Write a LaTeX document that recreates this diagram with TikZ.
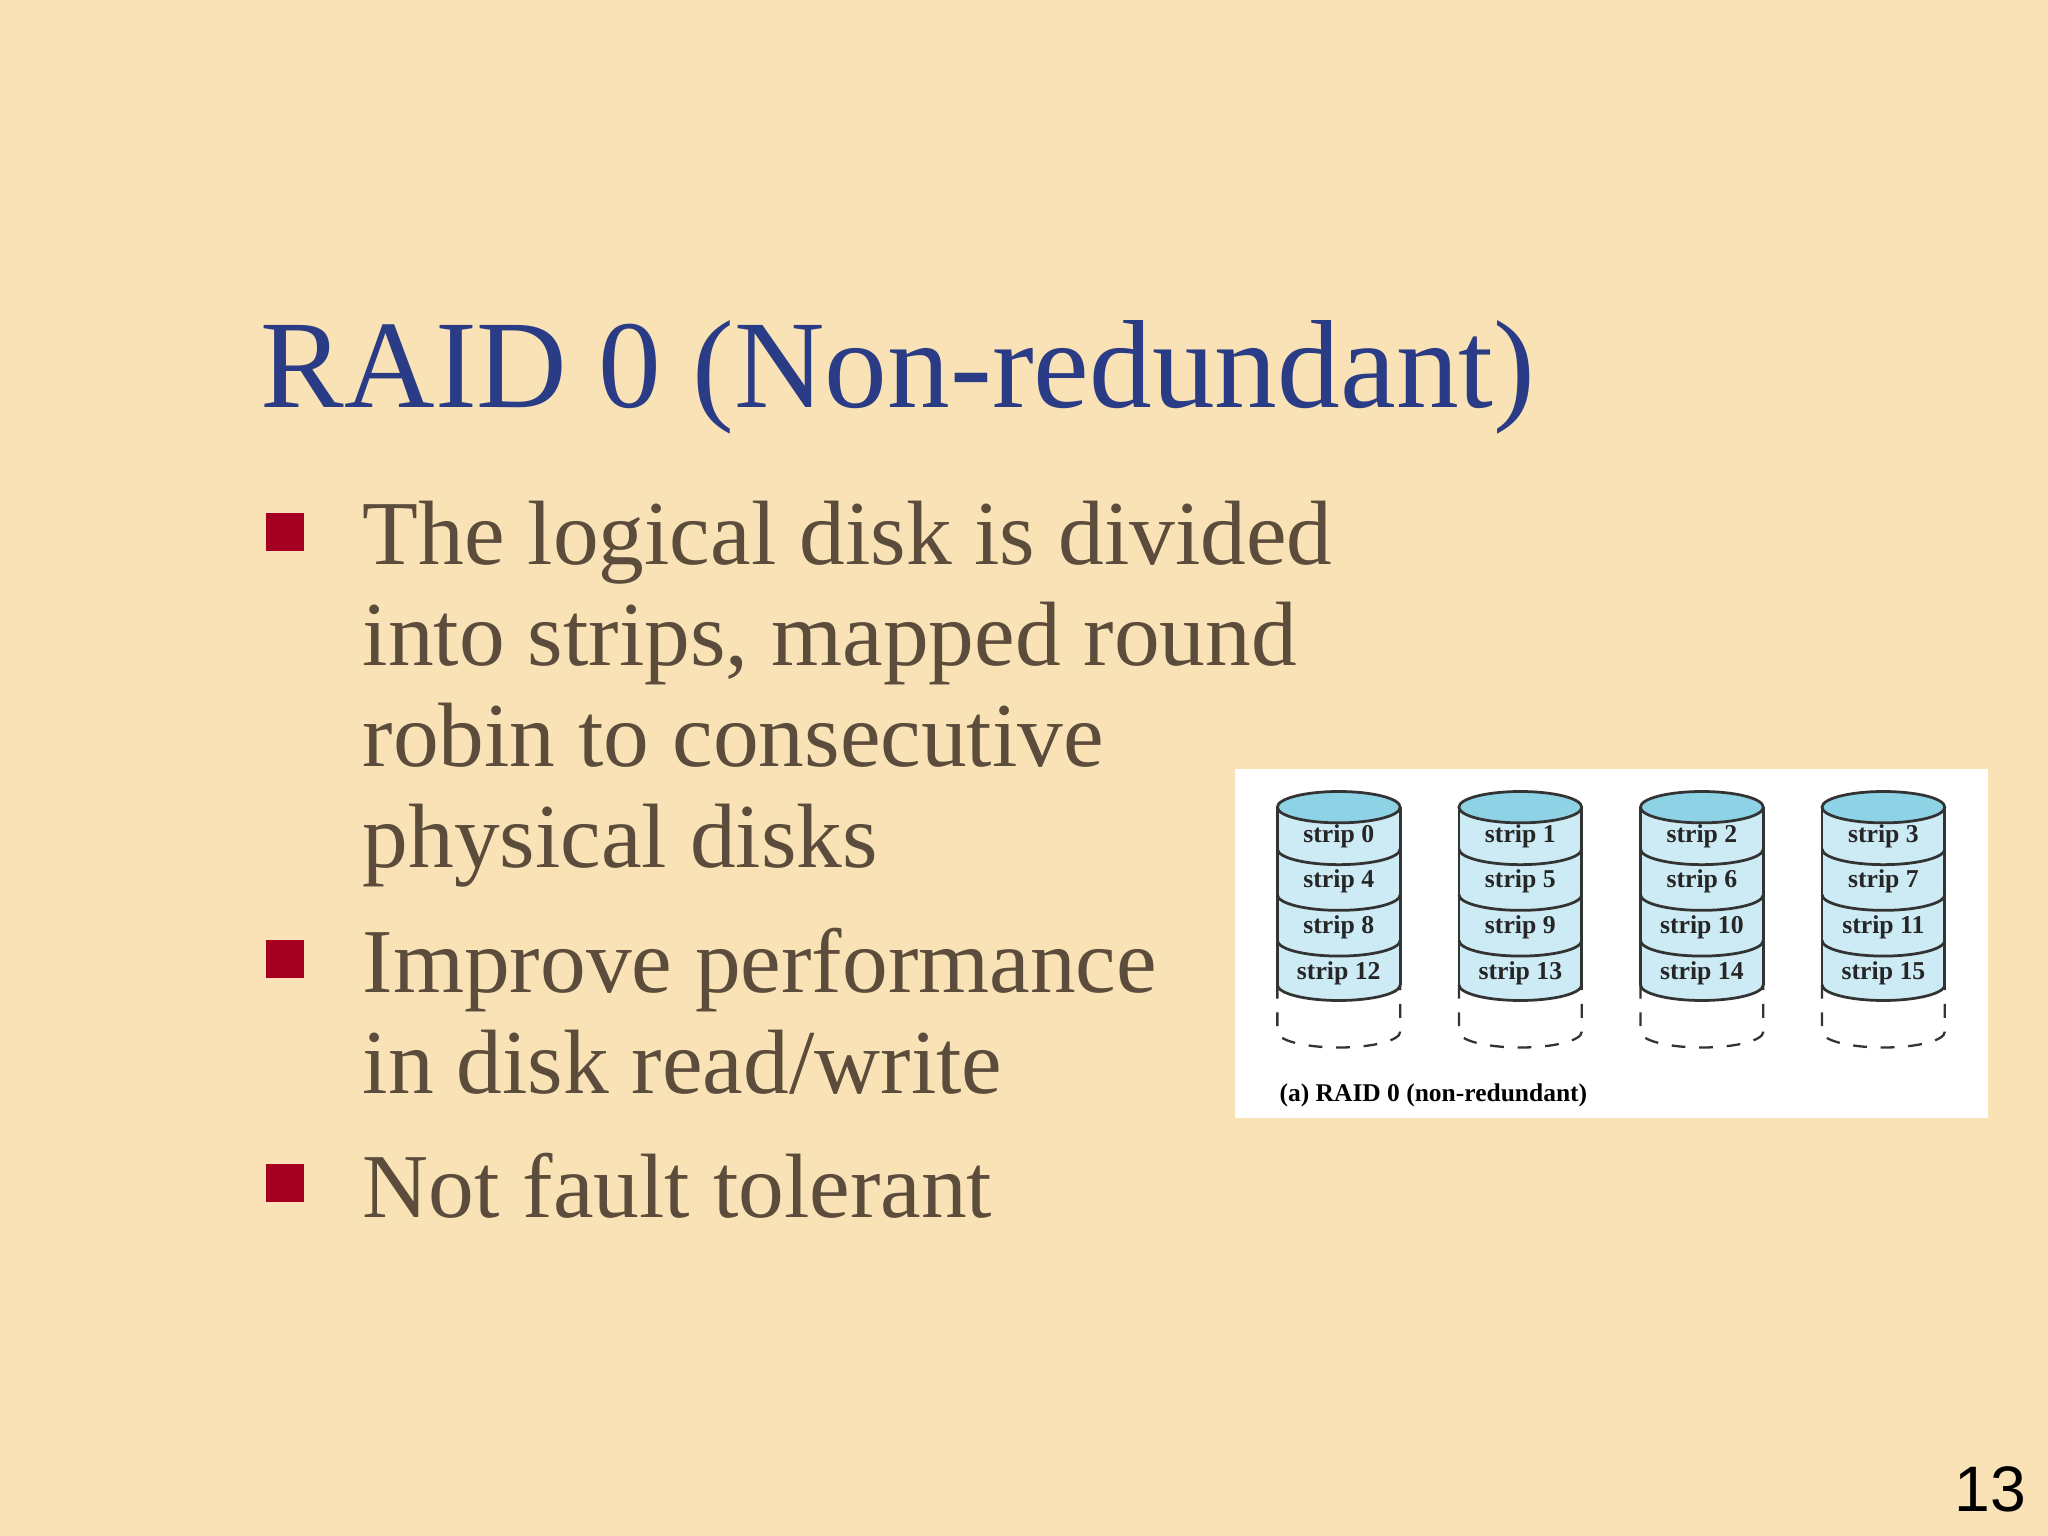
\documentclass[tikz,border=0pt]{standalone}
\usepackage{fontspec}
\setmainfont{Liberation Serif}
\newfontfamily\numfont{Liberation Sans}
\definecolor{bg}{HTML}{F9E3B6}
\definecolor{ttl}{HTML}{2B3C86}
\definecolor{bodyc}{HTML}{5C4C3C}
\definecolor{bul}{HTML}{A50021}
\definecolor{cyltop}{HTML}{8ED2E6}
\definecolor{cylside}{HTML}{CDEBF4}
\begin{document}
\begin{tikzpicture}[x=0.01cm,y=-0.01cm,
  bodytxt/.style={anchor=north west,text=bodyc,font=\fontsize{19.9}{22}\selectfont,align=left,inner sep=0pt},
  bulletbox/.style={fill=bul,minimum size=0.29cm,inner sep=0pt},
  striplbl/.style={font=\fontsize{5.6}{6}\selectfont\bfseries,inner sep=0pt,text=black!85}]
\useasboundingbox (0,0) rectangle (1568,1176);
\fill[bg] (0,0) rectangle (1568,1176);
\node[anchor=base west,text=ttl,font=\fontsize{27.3}{28}\selectfont,inner sep=0pt] (title) at (199,312) {RAID 0 (Non-redundant)};
\node[bulletbox] (b1) at (218,407) {};
\node[bulletbox] (b2) at (218,734) {};
\node[bulletbox] (b3) at (218,906) {};
\node[bodytxt] (t1) at (277,383) {The logical disk is divided\\into strips, mapped round\\robin to consecutive\\physical disks};
\node[bodytxt] (t2) at (277,710) {Improve performance\\in disk read/write};
\node[bodytxt] (t3) at (277,882) {Not fault tolerant};
\node[fill=white,minimum width=5.76cm,minimum height=2.67cm,inner sep=0pt,anchor=north west] (fig) at (945,588) {};
\foreach \k/\cx in {0/1025,1/1164,2/1303,3/1442}{
  \fill[cylside] (\cx-47,618) -- (\cx-47,754) arc[start angle=180,end angle=360,x radius=47,y radius=-12] -- (\cx+47,618) -- cycle;
  \draw[black!80,line width=0.5pt,dashed] (\cx-47,754) -- (\cx-47,790) arc[start angle=180,end angle=360,x radius=47,y radius=-12] -- (\cx+47,754);
  \draw[black!80,line width=0.6pt,fill=cyltop] (\cx,618) ellipse[x radius=47,y radius=12];
  \draw[black!80,line width=0.6pt] (\cx-47,618) -- (\cx-47,754) (\cx+47,618) -- (\cx+47,754);
  \foreach \yy in {650,685,720,754}{
    \draw[black!80,line width=0.6pt] (\cx-47,\yy) arc[start angle=180,end angle=360,x radius=47,y radius=-12];
  }
  \foreach \r/\yy in {0/640,1/675,2/710,3/745}{
    \pgfmathtruncatemacro{\s}{\k+4*\r}
    \node[striplbl] (s\s) at (\cx,\yy) {strip \s};
  }
}
\node[anchor=base west,font=\fontsize{5.55}{6}\selectfont\bfseries,inner sep=0pt] (cap) at (979,843) {(a) RAID 0 (non-redundant)};
\node[anchor=base east,font=\numfont\fontsize{14}{15}\selectfont,inner sep=0pt] (pg) at (1552,1157) {13};
\end{tikzpicture}
\end{document}
